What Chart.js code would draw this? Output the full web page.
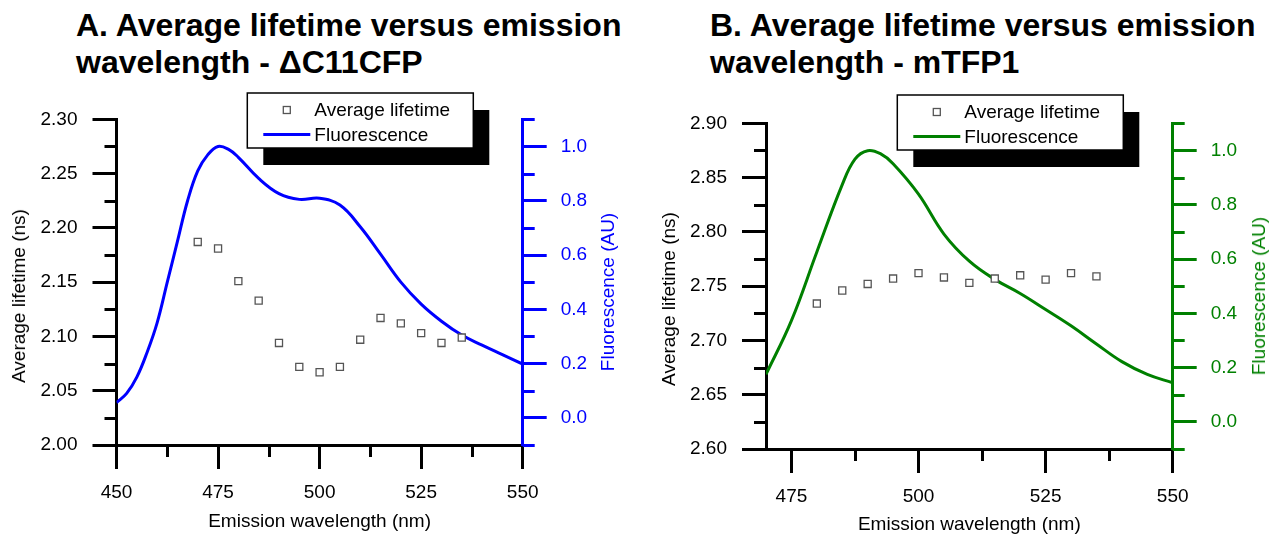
<!DOCTYPE html>
<html>
<head>
<meta charset="utf-8">
<script src="https://cdn.jsdelivr.net/npm/chart.js@4.4.1/dist/chart.umd.min.js"></script>
<style>
  body { margin: 0; background: #fff; width: 1271px; height: 536px; position: relative; overflow: hidden;
         font-family: "Liberation Sans", Arial, sans-serif; }
  canvas { position: absolute; top: 0; }
  .title { position: absolute; top: 7px; font-weight: bold; font-size: 32px; line-height: 37px; white-space: nowrap; color: #000; }
  .ytitle { position: absolute; font-size: 19px; white-space: nowrap; transform: translate(-50%, -50%) rotate(-90deg); }
</style>
</head>
<body>
<div class="title" style="left:76px">A. Average lifetime versus emission<br>wavelength - ΔC11CFP</div>
<div class="title" style="left:710px">B. Average lifetime versus emission<br>wavelength - mTFP1</div>
<canvas id="chartA" width="640" height="536" style="left:0"></canvas>
<canvas id="chartB" width="631" height="536" style="left:640px"></canvas>
<div class="ytitle" style="left:19px;top:296px;color:#000">Average lifetime (ns)</div>
<div class="ytitle" style="left:608px;top:292px;color:#0000ff">Fluorescence (AU)</div>
<div class="ytitle" style="left:669px;top:299px;color:#000">Average lifetime (ns)</div>
<div class="ytitle" style="left:1259px;top:296px;color:#008000">Fluorescence (AU)</div>

<script>
// panel A - dC11CFP
const lifeWlA = [470, 475, 480, 485, 490, 495, 500, 505, 510, 515, 520, 525, 530, 535];
const lifetimeA = [2.187, 2.181, 2.151, 2.133, 2.094, 2.072, 2.067, 2.072, 2.097, 2.117, 2.112, 2.103, 2.094, 2.099];
const fluoWlA = [450, 452.5, 455, 457.5, 460, 462.5, 465, 467.5, 470, 472.5, 475, 477.5, 480, 485, 490, 495, 500, 505, 510, 515, 520, 525, 530, 535, 540, 545, 550];
const fluorescenceA = [0.056, 0.09, 0.15, 0.24, 0.35, 0.5, 0.65, 0.8, 0.91, 0.97, 1.0, 0.99, 0.96, 0.882, 0.826, 0.805, 0.809, 0.784, 0.704, 0.603, 0.50, 0.419, 0.356, 0.305, 0.268, 0.233, 0.198];

// panel B - mTFP1
const lifeWlB = [480, 485, 490, 495, 500, 505, 510, 515, 520, 525, 530, 535];
const lifetimeB = [2.734, 2.746, 2.752, 2.757, 2.762, 2.758, 2.753, 2.757, 2.760, 2.756, 2.762, 2.759];
const fluoWlB = [470, 475, 480, 485, 487.5, 490, 492.5, 495, 500, 505, 510, 515, 520, 525, 530, 535, 540, 545, 550];
const fluorescenceB = [0.175, 0.373, 0.626, 0.874, 0.968, 0.999, 0.988, 0.951, 0.839, 0.692, 0.592, 0.525, 0.473, 0.414, 0.354, 0.287, 0.222, 0.175, 0.144];

// major tick labels
const xTicksA = [450, 475, 500, 525, 550];
const xTicksB = [475, 500, 525, 550];
const lifeTicksA = [2.00, 2.05, 2.10, 2.15, 2.20, 2.25, 2.30];
const lifeTicksB = [2.60, 2.65, 2.70, 2.75, 2.80, 2.85, 2.90];
const fluoTicks = [0.0, 0.2, 0.4, 0.6, 0.8, 1.0];

Chart.defaults.font.family = '"Liberation Sans", Arial, sans-serif';
Chart.defaults.font.size = 19;
Chart.defaults.color = '#000';

function pts(xs, ys) { return xs.map((x, i) => ({ x: x, y: ys[i] })); }

// majors plus half-step minors inside [min, max]
function allTicks(majors, min, max) {
    const step = majors[1] - majors[0];
    const out = majors.map(v => ({ value: v, minor: false }));
    const mids = [majors[0] - step / 2];
    majors.forEach(v => mids.push(v + step / 2));
    mids.forEach(v => {
        if (v >= min - 1e-9 && v <= max + 1e-9) out.push({ value: +v.toFixed(4), minor: true });
    });
    return out.sort((a, b) => a.value - b.value);
}

function axis(position, majors, min, max, size, color, dec, pad) {
    return {
        type: 'linear', position: position, min: min, max: max,
        afterBuildTicks: s => { s.ticks = allTicks(majors, min, max); },
        afterFit: s => { if (s.isHorizontal()) s.height = size; else s.width = size; },
        border: { color: color, width: 3 },
        grid: {
            drawOnChartArea: false, tickLength: 24, tickWidth: 3,
            tickColor: c => (c.tick && c.tick.minor) ? 'rgba(0,0,0,0)' : color
        },
        ticks: {
            color: color, padding: pad, autoSkip: false, maxRotation: 0,
            callback: (v, i, t) => t[i].minor ? '' : v.toFixed(dec)
        },
        minorLen: 12
    };
}

const minorTicks = {
    id: 'minorTicks',
    afterDraw(chart) {
        const ctx = chart.ctx;
        ctx.save();
        Object.values(chart.scales).forEach(s => {
            const len = s.options.minorLen;
            if (!len) return;
            ctx.strokeStyle = s.options.border.color;
            ctx.lineWidth = 3;
            s.ticks.forEach(t => {
                if (!t.minor) return;
                const p = Math.round(s.getPixelForValue(t.value)) + 0.5;
                ctx.beginPath();
                if (s.position === 'bottom') { ctx.moveTo(p, s.top); ctx.lineTo(p, s.top + len); }
                else if (s.position === 'left') { ctx.moveTo(s.right, p); ctx.lineTo(s.right - len, p); }
                else { ctx.moveTo(s.left, p); ctx.lineTo(s.left + len, p); }
                ctx.stroke();
            });
        });
        ctx.restore();
    }
};

const boxLegend = {
    id: 'boxLegend',
    afterDraw(chart, args, o) {
        const ctx = chart.ctx;
        ctx.save();
        ctx.fillStyle = '#000';
        ctx.fillRect(o.x + 16, o.y + 17, o.w, o.h);
        ctx.fillStyle = '#fff';
        ctx.fillRect(o.x, o.y, o.w, o.h);
        ctx.strokeStyle = '#000';
        ctx.lineWidth = 1.5;
        ctx.strokeRect(o.x, o.y, o.w, o.h);
        ctx.font = '19px "Liberation Sans", Arial, sans-serif';
        ctx.textBaseline = 'middle';
        chart.data.datasets.forEach((ds, i) => {
            const cy = o.y + 17 + i * 24.5;
            if (ds.type === 'line') {
                ctx.strokeStyle = ds.borderColor;
                ctx.lineWidth = 3;
                ctx.beginPath();
                ctx.moveTo(o.x + 16, cy);
                ctx.lineTo(o.x + 63, cy);
                ctx.stroke();
            } else {
                ctx.strokeStyle = ds.pointBorderColor;
                ctx.lineWidth = 1.3;
                ctx.strokeRect(o.x + 36, cy - 3.5, 7, 7);
            }
            ctx.fillStyle = '#000';
            ctx.fillText(ds.label, o.x + 67, cy + 1);
        });
        ctx.restore();
    }
};

function makeChart(id, p) {
    return new Chart(document.getElementById(id), {
        type: 'scatter',
        data: {
            datasets: [
                {
                    label: 'Average lifetime', data: pts(p.lifeWl, p.life), yAxisID: 'y',
                    pointStyle: 'rect', pointRadius: 5, pointBorderColor: '#555',
                    pointBackgroundColor: '#fff', pointBorderWidth: 1.3
                },
                {
                    type: 'line', label: 'Fluorescence', data: pts(p.fluoWl, p.fluo), yAxisID: 'y2',
                    borderColor: p.color, borderWidth: 3, pointRadius: 0,
                    tension: 0.4, fill: false
                }
            ]
        },
        options: {
            responsive: false, animation: false, devicePixelRatio: 1,
            layout: { padding: { top: p.top, left: 0, right: 0, bottom: 0 } },
            scales: {
                x: Object.assign(axis('bottom', p.xTicks, p.xMin, 550, p.xH, '#000', 0, 12), {
                    title: { display: true, text: 'Emission wavelength (nm)', color: '#000',
                             font: { size: 19, lineHeight: 1 }, padding: { top: 0, bottom: p.xTitlePad } }
                }),
                y: axis('left', p.lifeTicks, p.lifeTicks[0], p.lifeTicks[p.lifeTicks.length - 1], p.leftW, '#000', 2, 15),
                y2: axis('right', fluoTicks, -0.1, 1.1, p.rightW, p.color, 1, 14)
            },
            plugins: {
                legend: { display: false },
                tooltip: { enabled: false },
                boxLegend: { x: p.legX, y: p.legY, w: 226, h: 55 }
            }
        },
        plugins: [minorTicks, boxLegend]
    });
}

makeChart('chartA', {
    lifeWl: lifeWlA, life: lifetimeA, fluoWl: fluoWlA, fluo: fluorescenceA,
    xTicks: xTicksA, xMin: 450, lifeTicks: lifeTicksA, color: '#0000ff',
    top: 119.3, xH: 91, leftW: 116.5, rightW: 117.3, xTitlePad: 5,
    legX: 247.3, legY: 93
});
makeChart('chartB', {
    lifeWl: lifeWlB, life: lifetimeB, fluoWl: fluoWlB, fluo: fluorescenceB,
    xTicks: xTicksB, xMin: 470, lifeTicks: lifeTicksB, color: '#008000',
    top: 123.3, xH: 87, leftW: 126, rightW: 98.3, xTitlePad: 2,
    legX: 257.3, legY: 95
});
</script>
</body>
</html>
